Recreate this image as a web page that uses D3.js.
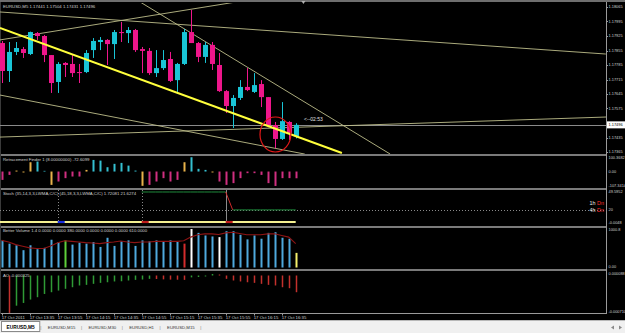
<!DOCTYPE html>
<html>
<head>
<meta charset="utf-8">
<script src="https://d3js.org/d3.v7.min.js"></script>
<style>
body { margin: 0; background: #000; }
svg { display: block; }
text { font-family: 'Liberation Sans', Arial, sans-serif; }
</style>
</head>
<body>
<div id="chart"></div>
<script>
// ---- data ----
var header = 'EURUSD,M5  1.17441 1.17504 1.17431 1.17496'
var bid = 1.17496

var open  = [1.17891,1.17756,1.17848,1.17862,1.17838,1.17939,1.17925,1.17833,1.17703,1.17795,1.17790,1.17751,1.17751,1.17857,1.17896,1.17906,1.17886,1.17944,1.17939,1.17954,1.17862,1.17853,1.17746,1.17770,1.17814,1.17712,1.17790,1.17944,1.17891,1.17824,1.17882,1.17785,1.17659,1.17587,1.17626,1.17679,1.17655,1.17693,1.17630,1.17495,1.17428,1.17510,1.17441]
var high  = [1.17901,1.17896,1.17896,1.17872,1.17946,1.17944,1.17930,1.17833,1.17799,1.17799,1.17833,1.17790,1.17857,1.17915,1.17920,1.17910,1.17954,1.17993,1.17968,1.17959,1.17872,1.17867,1.17857,1.17857,1.17848,1.17795,1.17959,1.18051,1.17896,1.17896,1.17896,1.17843,1.17664,1.17640,1.17712,1.17770,1.17746,1.17712,1.17630,1.17510,1.17606,1.17514,1.17504]
var low   = [1.17698,1.17703,1.17833,1.17819,1.17833,1.17906,1.17799,1.17650,1.17650,1.17727,1.17727,1.17698,1.17746,1.17819,1.17857,1.17785,1.17814,1.17896,1.17891,1.17848,1.17746,1.17737,1.17727,1.17761,1.17703,1.17655,1.17785,1.17891,1.17799,1.17795,1.17761,1.17655,1.17553,1.17481,1.17616,1.17659,1.17650,1.17582,1.17485,1.17384,1.17423,1.17423,1.17431]
var close = [1.17756,1.17848,1.17867,1.17843,1.17944,1.17925,1.17833,1.17698,1.17790,1.17785,1.17746,1.17746,1.17843,1.17901,1.17906,1.17886,1.17944,1.17939,1.17954,1.17857,1.17853,1.17746,1.17770,1.17809,1.17708,1.17790,1.17944,1.17891,1.17824,1.17882,1.17790,1.17659,1.17587,1.17626,1.17679,1.17664,1.17688,1.17630,1.17495,1.17428,1.17514,1.17457,1.17496]

var priceTicks = [1.18065,1.17995,1.17925,1.17855,1.17785,1.17715,1.17645,1.17575,1.17505,1.17435,1.17365]

// drawn objects, in [bar, price]
var trendLines = [
	{ a: [0.75, 1.17906], b: [35.0, 1.18092], kind: 'channel' },
	{ a: [0.75, 1.18041], b: [87.3, 1.17838], kind: 'channel' },
	{ a: [20.3, 1.18099], b: [56.5, 1.17355], kind: 'channel' },
	{ a: [0.75, 1.17640], b: [44.3, 1.17355], kind: 'channel' },
	{ a: [0.75, 1.17437], b: [87.5, 1.17534], kind: 'channel' },
	{ a: [0.75, 1.17964], b: [49.6, 1.17360], kind: 'trend' }
]
var circleMark = { bars: [37.9, 42.3], prices: [1.17534, 1.17365] }
var countdown = '<--02:53'

// Retracement Finder
var rfLabel = 'Retracement Finder 1 (8.00000000) -72.6099'
var rfTicks = ['100.3682', '0.00', '-107.3414']
var rf = [-62,-25,7,-7,69,74,5,-99,-74,-49,-37,-37,12,86,81,32,57,64,44,7,-106,-99,-74,-49,-74,-62,69,106,20,12,-7,-74,-99,-86,-49,-12,-12,-25,-86,-107,-49,-49,-50]

// Stochastic
var stochLabel = 'Stoch (35,14,3,3,LWMA,C/C) (45,18,3,3,LWMA,C/C) 1.72081 21.6274'
var stochTicks = ['49.5952', '20', '-0.0048']
var stochMain = [null,null,null,null,null,null,null,null,null,null,null,null,null,null,null,null,null,null,null,null,49.6,49.6,49.6,49.6,49.6,49.6,49.6,49.6,49.6,49.6,49.6,49.6,49.6,20,20,20,20,20,20,20,20,20,20]
var stochCross = [{ bar: 9, dir: 'up' }, { bar: 21, dir: 'down' }, { bar: 33, dir: 'down' }]
var trendTags = [{ tf: '1h', dir: 'Dn' }, { tf: '4h', dir: 'Dn' }]

// Better Volume
var bvLabel = 'Better Volume 1.4 0.0000 0.0000 380.0000 0.0000 0.0000 0.0000 610.0000'
var bvTicks = ['1000.8', '0.00']
var vol = [705,620,578,450,578,476,510,722,663,705,595,646,620,663,535,773,561,680,705,561,705,680,705,663,705,663,620,1000,900,833,807,790,943,943,850,731,833,748,900,918,773,748,380]
var volType = ['n','n','n','n','n','n','n','n','n','churn','n','n','n','n','n','n','n','n','n','n','n','n','n','n','n','n','climaxUp','climaxDown','n','n','n','climaxDown','n','n','n','n','n','n','n','n','n','n','low']
var volMA = [705,663,595,552,510,493,493,561,646,697,680,663,646,637,620,646,663,688,663,646,663,663,680,680,680,680,697,790,850,875,875,858,900,918,884,850,850,850,875,875,833,790,620]

// Awesome Oscillator
var aoLabel = 'AO -0.000325'
var aoTicks = ['0.000088', '-0.000710']
var ao = [null,-0.000728,-0.000587,-0.000534,-0.000468,-0.000422,-0.000359,-0.000325,-0.000293,-0.000259,-0.000228,-0.000194,-0.000182,-0.000162,-0.000143,-0.000131,-0.000116,-0.000112,-0.000097,-0.000085,-0.000078,-0.000065,-0.000068,-0.000075,-0.000080,-0.000082,-0.000085,-0.000036,-0.000029,-0.000019,0.000029,0.000019,-0.000065,-0.000097,-0.000116,-0.000131,-0.000143,-0.000162,-0.000182,-0.000194,-0.000228,-0.000247,-0.000325]

var timeLabels = ['17 Oct 2011','17 Oct 13:35','17 Oct 13:55','17 Oct 14:15','17 Oct 14:35','17 Oct 14:55','17 Oct 15:15','17 Oct 15:35','17 Oct 15:55','17 Oct 16:15','17 Oct 16:35']
var barsPerLabel = 4
var tabs = ['EURUSD,M5','EURUSD,M15','EURUSD,M30','EURUSD,H1','EURUSD,M15']

// ---- layout ----
var W = 625, H = 333
var plotW = 606
var panes = {
	main:  { top: 3,   bottom: 154 },
	rf:    { top: 156, bottom: 188 },
	stoch: { top: 190, bottom: 226 },
	bv:    { top: 228, bottom: 269 },
	ao:    { top: 271, bottom: 313 }
}
var labelColor = '#d0d0d0'
var fs = 4.3
var axisFs = 3.9

var x = d3.scaleLinear().domain([1, 44]).range([1.7, 302.7])
var px = function(i) { return Math.round(x(i)) + 0.5 }

var yMain  = d3.scaleLinear().domain([1.17365, 1.18065]).range([152, 7])
var yRf    = d3.scaleLinear().domain([-107.3414, 100.3682]).range([186, 158])
var yStoch = d3.scaleLinear().domain([0, 49.5952]).range([222, 192])
var yBv    = d3.scaleLinear().domain([0, 1000.8]).range([267.5, 229])
var yAo    = d3.scaleLinear().domain([-0.00071, 0.0000876]).range([312, 271])

var svg = d3.select('#chart').append('svg')
	.attr('width', W)
	.attr('height', H)

svg.append('rect').attr('width', W).attr('height', H).attr('fill', '#000')

var defs = svg.append('defs')
Object.keys(panes).forEach(function(k) {
	defs.append('clipPath').attr('id', 'clip-' + k)
		.append('rect')
		.attr('x', 0).attr('y', panes[k].top)
		.attr('width', plotW).attr('height', panes[k].bottom - panes[k].top)
})

var pane = function(k) {
	return svg.append('g').attr('clip-path', 'url(#clip-' + k + ')')
}

// window frames
svg.append('rect').attr('x', 0).attr('y', 0).attr('width', W).attr('height', 2).attr('fill', '#6e6e6e')
;[154, 188, 226, 269].forEach(function(yy) {
	svg.append('rect').attr('x', 0).attr('y', yy).attr('width', plotW + 1).attr('height', 2).attr('fill', '#7a7a7a')
})
svg.append('line').attr('x1', 0).attr('x2', plotW + 1).attr('y1', 313.5).attr('y2', 313.5).attr('stroke', '#9a9a9a')
svg.append('line').attr('x1', plotW + 0.5).attr('x2', plotW + 0.5).attr('y1', 2).attr('y2', 314).attr('stroke', '#9a9a9a')
svg.append('line').attr('x1', 0.5).attr('x2', 0.5).attr('y1', 2).attr('y2', 314).attr('stroke', '#3a3a3a')

// chart shift marker
svg.append('path')
	.attr('d', 'M' + (x(44.1) - 2) + ',1 L' + (x(44.1) + 2) + ',1 L' + x(44.1) + ',4 Z')
	.attr('fill', '#b0b0b0')

var axisText = function(vals, ys) {
	svg.selectAll(null).data(vals).enter().append('text')
		.attr('x', plotW + 2.5)
		.attr('y', function(d, i) { return ys[i] })
		.attr('font-size', axisFs)
		.attr('fill', labelColor)
		.text(function(d) { return d })
}

var paneLabel = function(txt, yy) {
	svg.append('text').attr('x', 3).attr('y', yy)
		.attr('font-size', fs).attr('fill', labelColor).text(txt)
}

// ---- main window ----
var main = pane('main')
var bars = open.map(function(o, i) {
	return { i: i + 1, o: o, h: high[i], l: low[i], c: close[i] }
})
var candleColor = function(d) { return d.c >= d.o ? '#19c5d6' : '#ee168b' }

// bid line
main.append('line')
	.attr('x1', 0).attr('x2', plotW)
	.attr('y1', Math.round(yMain(bid)) + 0.5).attr('y2', Math.round(yMain(bid)) + 0.5)
	.attr('stroke', '#8a8a8a')

main.selectAll('.tl').data(trendLines.filter(function(d) { return d.kind === 'channel' })).enter().append('line')
	.attr('class', 'tl')
	.attr('x1', function(d) { return x(d.a[0]) })
	.attr('y1', function(d) { return yMain(d.a[1]) })
	.attr('x2', function(d) { return x(d.b[0]) })
	.attr('y2', function(d) { return yMain(d.b[1]) })
	.attr('stroke', '#bdbd8a')
	.attr('stroke-width', 0.9)

main.selectAll('.wick').data(bars).enter().append('line')
	.attr('class', 'wick')
	.attr('x1', function(d) { return px(d.i) })
	.attr('x2', function(d) { return px(d.i) })
	.attr('y1', function(d) { return yMain(d.h) })
	.attr('y2', function(d) { return yMain(d.l) })
	.attr('stroke', candleColor)

main.selectAll('.body').data(bars).enter().append('rect')
	.attr('class', 'body')
	.attr('x', function(d) { return px(d.i) - 2.5 })
	.attr('width', 5)
	.attr('y', function(d) { return yMain(Math.max(d.o, d.c)) })
	.attr('height', function(d) { return Math.max(1, Math.abs(yMain(d.o) - yMain(d.c))) })
	.attr('fill', candleColor)

// yellow trend line drawn over candles
main.selectAll('.tl2').data(trendLines.filter(function(d) { return d.kind === 'trend' })).enter().append('line')
	.attr('x1', function(d) { return x(d.a[0]) })
	.attr('y1', function(d) { return yMain(d.a[1]) })
	.attr('x2', function(d) { return x(d.b[0]) })
	.attr('y2', function(d) { return yMain(d.b[1]) })
	.attr('stroke', '#ffff3c')
	.attr('stroke-width', 2)

main.append('ellipse')
	.attr('cx', (x(circleMark.bars[0]) + x(circleMark.bars[1])) / 2)
	.attr('cy', (yMain(circleMark.prices[0]) + yMain(circleMark.prices[1])) / 2)
	.attr('rx', (x(circleMark.bars[1]) - x(circleMark.bars[0])) / 2)
	.attr('ry', (yMain(circleMark.prices[1]) - yMain(circleMark.prices[0])) / 2)
	.attr('fill', 'none')
	.attr('stroke', '#e01818')
	.attr('stroke-width', 1.2)

main.append('text')
	.attr('x', x(44.2))
	.attr('y', yMain(bid) - 4)
	.attr('font-size', 5)
	.attr('fill', '#e0e0e0')
	.text(countdown)

paneLabel(header, 8)

// price scale, the tick hidden under the bid box is skipped
var shownTicks = priceTicks.filter(function(d) { return Math.abs(yMain(d) - yMain(bid)) > 5 })
axisText(shownTicks.map(function(d) { return d.toFixed(5) }), shownTicks.map(function(d) { return yMain(d) + 1.4 }))
svg.selectAll(null).data(priceTicks).enter().append('line')
	.attr('x1', plotW).attr('x2', plotW + 2)
	.attr('y1', function(d) { return Math.round(yMain(d)) + 0.5 })
	.attr('y2', function(d) { return Math.round(yMain(d)) + 0.5 })
	.attr('stroke', '#9a9a9a')

svg.append('rect')
	.attr('x', plotW + 1).attr('y', yMain(bid) - 3.5)
	.attr('width', W - plotW - 1).attr('height', 7)
	.attr('fill', '#ffffff')
svg.append('text')
	.attr('x', plotW + 2.5).attr('y', yMain(bid) + 1.5)
	.attr('font-size', axisFs).attr('fill', '#000')
	.text(bid.toFixed(5))

// ---- Retracement Finder ----
var rfG = pane('rf')
var rfColor = function(v, i) {
	var prev = i > 0 ? rf[i - 1] : v
	if ((v >= 0) !== (prev >= 0)) return '#e8b24a'
	return v >= 0 ? '#35bfd0' : '#cf2f80'
}
rfG.selectAll('rect').data(rf).enter().append('rect')
	.attr('x', function(d, i) { return px(i + 1) - 1 })
	.attr('width', 2)
	.attr('y', function(d) { return yRf(Math.max(0, d)) })
	.attr('height', function(d) { return Math.abs(yRf(d) - yRf(0)) })
	.attr('fill', rfColor)
paneLabel(rfLabel, 161)
axisText(rfTicks, [159, 173, 187])

// ---- Stochastic ----
var stG = pane('stoch')
stG.append('line')
	.attr('x1', 0).attr('x2', plotW)
	.attr('y1', Math.round(yStoch(20)) + 0.5).attr('y2', Math.round(yStoch(20)) + 0.5)
	.attr('stroke', '#8a8a8a').attr('stroke-dasharray', '1,2')

stG.selectAll('.vx').data(stochCross).enter().append('line')
	.attr('x1', function(d) { return px(d.bar) })
	.attr('x2', function(d) { return px(d.bar) })
	.attr('y1', panes.stoch.top).attr('y2', panes.stoch.bottom - 3)
	.attr('stroke', '#8a8a8a')
	.attr('stroke-dasharray', function(d, i) { return i < stochCross.length - 1 ? '1,2' : null })

var stSegs = []
stochMain.forEach(function(v, i) {
	if (i > 0 && v != null && stochMain[i - 1] != null) {
		stSegs.push({ i: i + 1, a: stochMain[i - 1], b: v })
	}
})
stG.selectAll('.seg').data(stSegs).enter().append('line')
	.attr('x1', function(d) { return x(d.i - 1) })
	.attr('x2', function(d) { return x(d.i) })
	.attr('y1', function(d) { return yStoch(d.a) })
	.attr('y2', function(d) { return yStoch(d.b) })
	.attr('stroke', function(d) { return d.b < d.a ? '#d02a2a' : '#1f8a3c' })
	.attr('stroke-width', 1)

// zero line with cross markers
stG.append('line')
	.attr('x1', 0).attr('x2', x(open.length))
	.attr('y1', yStoch(0)).attr('y2', yStoch(0))
	.attr('stroke', '#f4f090').attr('stroke-width', 2.2)
stG.selectAll('.cr').data(stochCross).enter().append('line')
	.attr('x1', function(d) { return x(d.bar) })
	.attr('x2', function(d) { return x(d.bar + 1) })
	.attr('y1', yStoch(0)).attr('y2', yStoch(0))
	.attr('stroke', function(d) { return d.dir === 'up' ? '#1a2fe0' : '#c01c1c' })
	.attr('stroke-width', 2.2)

paneLabel(stochLabel, 195)
axisText(stochTicks, [193, 211, 224])

var tagG = svg.selectAll('.tag').data(trendTags).enter().append('text')
	.attr('x', plotW - 2)
	.attr('y', function(d, i) { return 204.5 + i * 7 })
	.attr('text-anchor', 'end')
	.attr('font-size', 5.4)
tagG.append('tspan').attr('fill', '#e8e8e8').text(function(d) { return d.tf + ' ' })
tagG.append('tspan').attr('fill', '#ff2a2a').text(function(d) { return d.dir })

// ---- Better Volume ----
var bvG = pane('bv')
var volColors = { n: '#4fa9dd', churn: '#5fcf3a', climaxUp: '#d42c2c', climaxDown: '#ffffff', low: '#f4ef6a' }
bvG.selectAll('rect').data(vol).enter().append('rect')
	.attr('x', function(d, i) { return px(i + 1) - 1 })
	.attr('width', 2)
	.attr('y', function(d) { return yBv(d) })
	.attr('height', function(d) { return yBv(0) - yBv(d) })
	.attr('fill', function(d, i) { return volColors[volType[i]] })
bvG.append('path')
	.datum(volMA)
	.attr('d', d3.line().x(function(d, i) { return x(i + 1) }).y(function(d) { return yBv(d) }))
	.attr('fill', 'none')
	.attr('stroke', '#8e1414')
	.attr('stroke-width', 1.1)
paneLabel(bvLabel, 232)
axisText(bvTicks, [231, 268])

// ---- AO ----
var aoG = pane('ao')
var aoBars = ao.map(function(v, i) {
	return { i: i + 1, v: v, prev: i > 0 ? ao[i - 1] : null }
}).filter(function(d) { return d.v != null })
aoG.selectAll('rect').data(aoBars).enter().append('rect')
	.attr('x', function(d) { return px(d.i) - 0.75 })
	.attr('width', 1.5)
	.attr('y', function(d) { return yAo(Math.max(0, d.v)) })
	.attr('height', function(d) { return Math.abs(yAo(d.v) - yAo(0)) })
	.attr('fill', function(d) { return d.prev != null && d.v > d.prev ? '#2f9a35' : '#c3302c' })
paneLabel(aoLabel, 277)
axisText(aoTicks, [275, 313])

// ---- time axis ----
var tG = svg.append('g')
tG.selectAll('text').data(timeLabels).enter().append('text')
	.attr('x', function(d, i) { return x(1 + i * barsPerLabel) })
	.attr('y', 318.7)
	.attr('font-size', fs)
	.attr('fill', labelColor)
	.text(function(d) { return d })
tG.selectAll('line').data(timeLabels).enter().append('line')
	.attr('x1', function(d, i) { return px(1 + i * barsPerLabel) })
	.attr('x2', function(d, i) { return px(1 + i * barsPerLabel) })
	.attr('y1', 314).attr('y2', 315.5)
	.attr('stroke', '#9a9a9a')

// ---- tabs ----
svg.append('rect').attr('x', 0).attr('y', 320).attr('width', W).attr('height', 13).attr('fill', '#f0f0f0')
svg.append('line').attr('x1', 0).attr('x2', W).attr('y1', 320.5).attr('y2', 320.5).attr('stroke', '#b8b8b8')
var cursor = 1
tabs.forEach(function(t, i) {
	var g = svg.append('g')
	var txt = g.append('text')
		.attr('y', 328.5)
		.attr('font-size', i === 0 ? 4.8 : fs)
		.attr('font-weight', i === 0 ? 'bold' : 'normal')
		.attr('fill', i === 0 ? '#000' : '#333')
		.text(t)
	var w = txt.node().getComputedTextLength() + 11
	if (i === 0) {
		g.insert('rect', 'text')
			.attr('x', cursor + 0.5).attr('y', 321.5)
			.attr('width', w - 1).attr('height', 10)
			.attr('fill', '#fff').attr('stroke', '#8a8a8a')
	}
	txt.attr('x', cursor + 5.5)
	cursor += w
	svg.append('text').attr('x', cursor).attr('y', 328.5)
		.attr('font-size', fs).attr('fill', '#777').text('|')
	cursor += 2
})
svg.append('path').attr('d', 'M611,327.5 L614,325.5 L614,329.5 Z').attr('fill', '#888')
svg.append('path').attr('d', 'M622,327.5 L619,325.5 L619,329.5 Z').attr('fill', '#888')
</script>
</body>
</html>
